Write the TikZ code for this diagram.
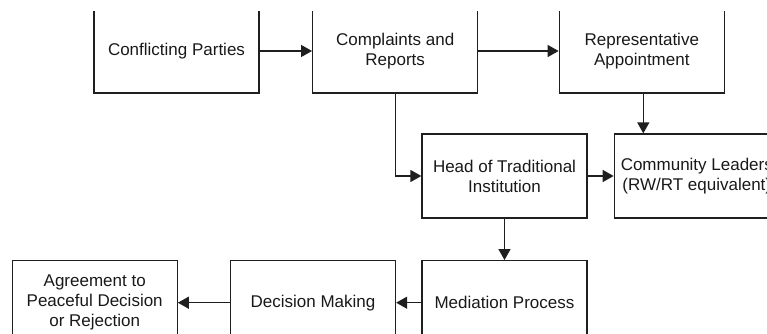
\documentclass[tikz,border=0pt]{standalone}
\usepackage{fontspec}
\setmainfont{Liberation Sans}
\usetikzlibrary{arrows.meta}
\begin{document}
\begin{tikzpicture}[x=1pt,y=-1pt,
  box/.style={draw=black!88, line width=1.3pt, minimum width=165pt, minimum height=84pt,
    inner sep=0pt, align=center, font=\fontsize{17pt}{20pt}\selectfont, text=black!90},
  conn/.style={draw=black!88, line width=1.3pt, -{Triangle[length=11pt,width=12pt]}}]
\useasboundingbox (0,0) rectangle (767,334);
\clip (0,12) rectangle (767,334);
\node[box] (cp) at (176.5,51) {Conflicting Parties};
\node[box] (cr) at (395.2,51) {Complaints and\\Reports};
\node[box] (ra) at (641.8,51) {Representative\\Appointment};
\node[box] (ht) at (504.5,176) {Head of Traditional\\Institution};
\node[box] (cl) at (696.8,176) {Community Leaders\\(RW/RT equivalent)};
\node[box] (mp) at (504.5,302.7) {Mediation Process};
\node[box] (dm) at (313,302.7) {Decision Making};
\node[box] (ag) at (94.7,302.7) {Agreement to\\Peaceful Decision\\or Rejection};
\draw[conn] (cp) -- (cr);
\draw[conn] (cr) -- (ra);
\draw[conn] (cr.south) |- (ht.west);
\coordinate (raout) at ([xshift=1.5pt]ra.south);
\draw[conn] (raout) -- (raout |- cl.north);
\draw[conn] (ht) -- (cl);
\draw[conn] (ht) -- (mp);
\draw[conn] (mp) -- (dm);
\draw[conn] (dm) -- (ag);
\end{tikzpicture}
\end{document}
